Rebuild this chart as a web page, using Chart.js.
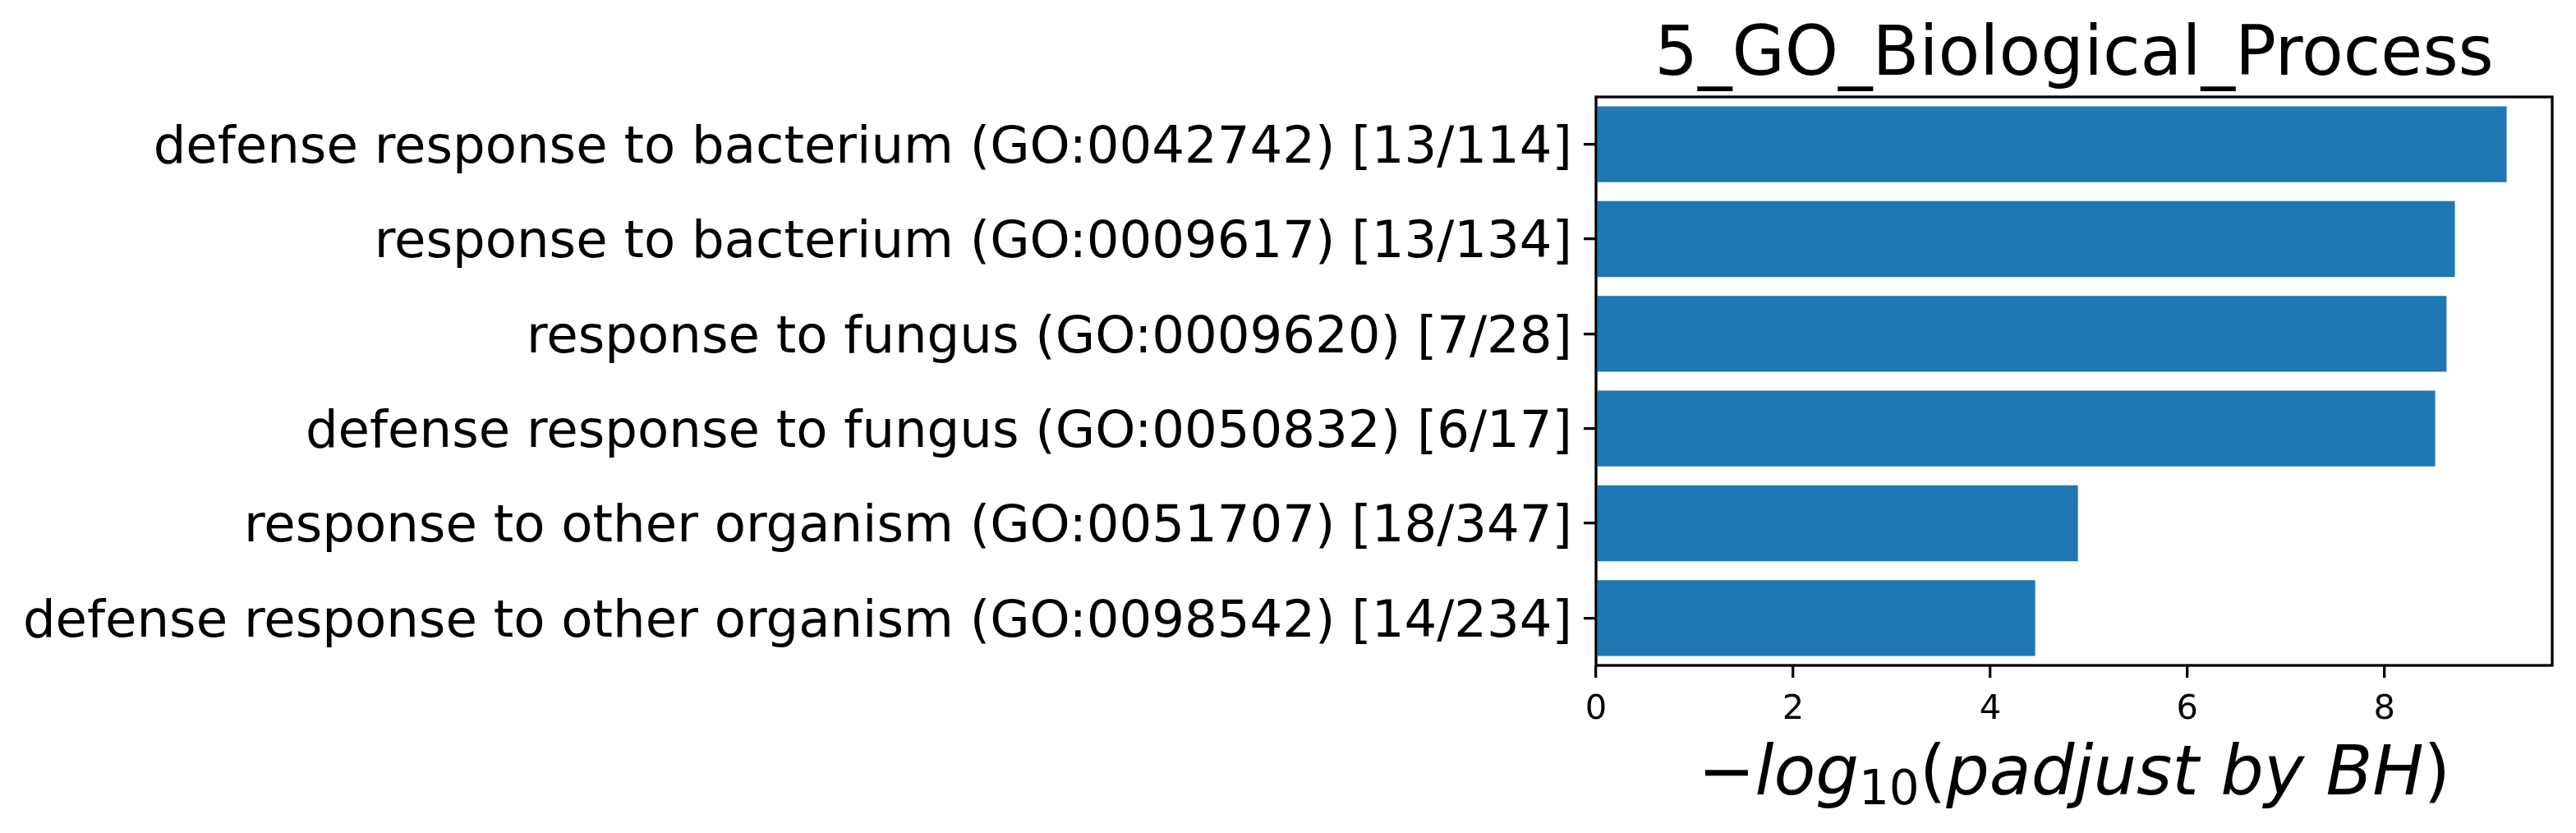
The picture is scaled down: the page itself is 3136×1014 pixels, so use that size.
<!DOCTYPE html>
<html>
<head>
<meta charset="utf-8">
<script src="https://cdn.jsdelivr.net/npm/chart.js@4.4.1/dist/chart.umd.min.js"></script>
<style>
  html, body { margin: 0; padding: 0; background: #fff; }
  canvas { display: block; }
</style>
</head>
<body>
<canvas id="goChart" width="3136" height="1014"></canvas>
<script>
// terms, top to bottom
const terms = [
    'defense response to bacterium (GO:0042742) [13/114]',
    'response to bacterium (GO:0009617) [13/134]',
    'response to fungus (GO:0009620) [7/28]',
    'defense response to fungus (GO:0050832) [6/17]',
    'response to other organism (GO:0051707) [18/347]',
    'defense response to other organism (GO:0098542) [14/234]'
];
// -log10(padjust by BH)
const scores = [9.24, 8.715, 8.63, 8.515, 4.89, 4.456];
const xTicks = [0, 2, 4, 6, 8];

const chartTitle = '5_GO_Biological_Process';
// x title pieces: [text, italic, subscript]
const xTitleParts = [
    ['\u2212', false, false],
    ['log', true, false],
    ['10', false, true],
    ['(', false, false],
    ['padjust by BH', true, false],
    [')', false, false]
];

const FONT = "'DejaVu Sans', sans-serif";
const SPINE = 3.3;

// top and right spines, matplotlib style box
const frameBox = {
    id: 'frameBox',
    afterDraw(chart) {
        const { ctx, chartArea: a } = chart;
        ctx.save();
        ctx.strokeStyle = '#000';
        ctx.lineWidth = SPINE;
        ctx.strokeRect(a.left, a.top, a.right - a.left, a.bottom - a.top);
        ctx.restore();
    }
};

// mathtext-like axis label with a real subscript
const mathTitle = {
    id: 'mathTitle',
    afterDraw(chart) {
        const { ctx, chartArea: a } = chart;
        const size = 83, sub = 58;
        const fontOf = p => (p[1] ? 'italic ' : '') + (p[2] ? sub : size) + 'px ' + FONT;
        ctx.save();
        ctx.fillStyle = '#000';
        ctx.textBaseline = 'alphabetic';
        ctx.textAlign = 'left';
        let total = 0;
        const widths = xTitleParts.map(p => {
            ctx.font = fontOf(p);
            const w = ctx.measureText(p[0]).width;
            total += w;
            return w;
        });
        let x = (a.left + a.right) / 2 - total / 2;
        const base = 967;
        xTitleParts.forEach((p, i) => {
            ctx.font = fontOf(p);
            ctx.fillText(p[0], x, p[2] ? base + 12 : base);
            x += widths[i];
        });
        ctx.restore();
    }
};

const ctx = document.getElementById('goChart');
new Chart(ctx, {
    type: 'bar',
    data: {
        labels: terms,
        datasets: [{
            data: scores,
            backgroundColor: '#1f77b4',
            borderWidth: 0,
            barPercentage: 1.0,
            categoryPercentage: 0.8
        }]
    },
    options: {
        indexAxis: 'y',
        responsive: false,
        devicePixelRatio: 1,
        animation: false,
        layout: { padding: { left: 0, right: 29, top: 0, bottom: 0 } },
        plugins: {
            legend: { display: false },
            tooltip: { enabled: false },
            title: {
                display: true,
                text: chartTitle,
                fullSize: false,
                color: '#000',
                font: { family: FONT, size: 83, weight: 'normal', lineHeight: 1.0 },
                padding: { top: 28, bottom: 7 }
            }
        },
        scales: {
            x: {
                type: 'linear',
                min: 0,
                max: 9.702,
                afterBuildTicks: s => { s.ticks = xTicks.map(v => ({ value: v })); },
                afterFit: s => { s.height = 204; },
                border: { display: false },
                grid: {
                    drawOnChartArea: false,
                    drawTicks: true,
                    tickLength: 15,
                    color: '#000',
                    lineWidth: SPINE
                },
                ticks: {
                    color: '#000',
                    padding: 14,
                    maxRotation: 0,
                    font: { family: FONT, size: 41.7 }
                },
                title: { display: false }
            },
            y: {
                type: 'category',
                offset: true,
                afterFit: s => { s.width = 1943; },
                border: { display: false },
                grid: {
                    drawOnChartArea: false,
                    drawTicks: true,
                    tickLength: 15,
                    color: '#000',
                    lineWidth: SPINE,
                    offset: false
                },
                ticks: {
                    color: '#000',
                    padding: 14,
                    labelOffset: 6,
                    autoSkip: false,
                    font: { family: FONT, size: 62.5 }
                }
            }
        }
    },
    plugins: [frameBox, mathTitle]
});
</script>
</body>
</html>
